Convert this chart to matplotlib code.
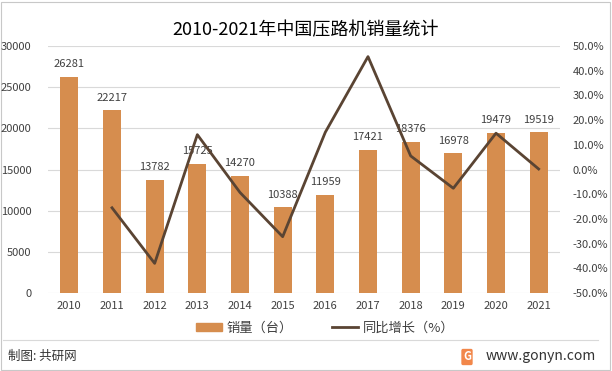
import matplotlib.pyplot as plt
from matplotlib.lines import Line2D
from matplotlib.patches import Patch, Rectangle

plt.rcParams['font.family'] = ['Noto Sans CJK SC', 'DejaVu Sans']

years = ['2010', '2011', '2012', '2013', '2014', '2015', '2016', '2017', '2018', '2019', '2020', '2021']
sales = [26281, 22217, 13782, 15725, 14270, 10388, 11959, 17421, 18376, 16978, 19479, 19519]
growth = [None, -15.5, -38.0, 14.1, -9.3, -27.2, 15.1, 45.7, 5.5, -7.6, 14.7, 0.2]

bar_color = '#D68D4E'
line_color = '#5A4433'

fig = plt.figure(figsize=(6.12, 3.71), dpi=100)
ax = fig.add_axes([48 / 612, 1 - 293 / 371, 512 / 612, 247 / 371])
x = list(range(len(years)))
ax.bar(x, sales, width=0.42, color=bar_color, zorder=2)
for i, v in enumerate(sales):
    ax.text(i, v + 900, str(v), ha='center', va='bottom', fontsize=8, color='#404040', zorder=3)
ax.set_ylim(0, 30000)
ax.set_xlim(-0.5, len(years) - 0.5)
ax.set_yticks(range(0, 30001, 5000))
ax.set_xticks(x)
ax.set_xticklabels(years)
ax.grid(axis='y', color='#D9D9D9', linewidth=0.8, zorder=0)
ax.set_axisbelow(True)
for s in ax.spines.values():
    s.set_visible(False)
ax.tick_params(length=0, labelsize=8, labelcolor='#404040')
ax.tick_params(axis='y', pad=12)
ax.tick_params(axis='x', pad=6)

ax2 = ax.twinx()
gx = [i for i, g in enumerate(growth) if g is not None]
gy = [g for g in growth if g is not None]
ax2.plot(gx, gy, color=line_color, linewidth=2, zorder=5)
ax2.set_ylim(-50, 50)
ax2.set_yticks(range(-50, 51, 10))
ax2.set_yticklabels(['%.1f%%' % t for t in range(-50, 51, 10)])
for s in ax2.spines.values():
    s.set_visible(False)
ax2.tick_params(length=0, labelsize=8, labelcolor='#404040', pad=9)
ax.set_zorder(1)
ax2.set_zorder(2)
ax2.patch.set_visible(False)

fig.text(0.5, 1 - 30 / 371, '2010-2021年中国压路机销量统计', ha='center', va='center', fontsize=13, color='#000000')

handles = [Patch(color=bar_color, label='销量（台）'),
           Line2D([0], [0], color=line_color, linewidth=2, label='同比增长（%）')]
fig.legend(handles=handles, loc='center', bbox_to_anchor=(325 / 612, 1 - 328 / 371), ncol=2,
           frameon=False, fontsize=9.5, handlelength=2.0, handleheight=0.5, handletextpad=0.3,
           columnspacing=3.0, labelcolor='#404040')

fig.add_artist(Line2D([3 / 612, 598 / 612], [1 - 340 / 371, 1 - 340 / 371], color='#D9D9D9', linewidth=0.8))
fig.add_artist(Rectangle((1 / 612, 1 / 371), 609 / 612, 368 / 371, fill=False, edgecolor='#C8C8C8', linewidth=0.8))
fig.text(8 / 612, 1 - 356 / 371, '制图: 共研网', ha='left', va='center', fontsize=9, color='#333333')
fig.text(596 / 612, 1 - 356 / 371, 'www.gonyn.com', ha='right', va='center', fontsize=10, color='#333333')
fig.text(467 / 612, 1 - 357 / 371, 'G', ha='center', va='center', fontsize=8, color='white', weight='bold',
         bbox=dict(boxstyle='round,pad=0.15', facecolor='#F2874A', edgecolor='none'))

fig.savefig('out.png', dpi=100)
